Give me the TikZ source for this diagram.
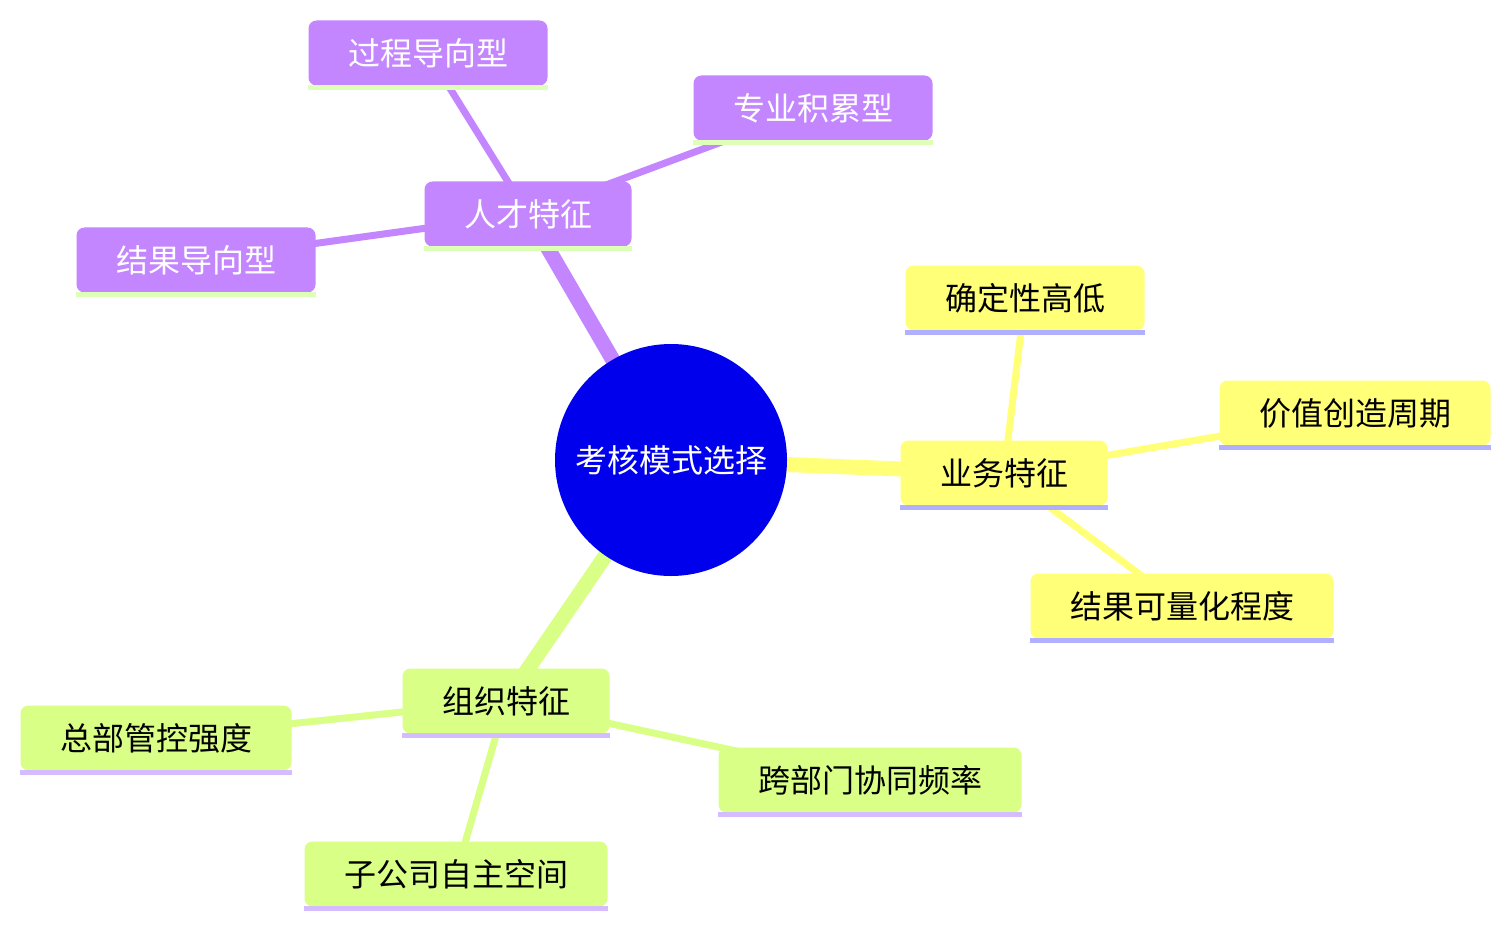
\documentclass[tikz,border=0pt]{standalone}
\usepackage{fontspec}
\newfontfamily\cjk{Noto Sans CJK SC}
\usetikzlibrary{positioning,backgrounds}

\definecolor{rootblue}{HTML}{0000EC}
\definecolor{talentpurple}{HTML}{C386FF}
\definecolor{bizyellow}{HTML}{FFFF78}
\definecolor{orggreen}{HTML}{D9FF86}
\definecolor{paleline}{HTML}{DDFFB8}
\definecolor{blueline}{HTML}{B0B0FF}
\definecolor{lavline}{HTML}{D4BCFF}

\tikzset{
  x=1pt, y=-1pt,
  every node/.style={font=\cjk\fontsize{32}{38}\selectfont},
  topic/.style={rounded corners=8pt, minimum height=65pt, inner xsep=39.5pt, inner ysep=0pt},
  talent/.style={topic, fill=talentpurple, text=white},
  biz/.style={topic, fill=bizyellow, text=black},
  org/.style={topic, fill=orggreen, text=black},
  mainedge/.style={line width=15pt},
  subedge/.style={line width=7pt},
  uline/.style={line width=5pt},
}

\begin{document}
\begin{tikzpicture}
  \useasboundingbox (0,0) rectangle (1510,928);

  % centre
  \node[circle, fill=rootblue, text=white, minimum size=232pt, inner sep=0pt] (root) at (671,460) {考核模式选择};

  % talent branch
  \node[talent] (talent) at (528,214) {人才特征};
  \node[talent] (process) at (428,53) {过程导向型};
  \node[talent] (expertise) at (813,108) {专业积累型};
  \node[talent] (result) at (196,260) {结果导向型};

  % business branch
  \node[biz] (business) at (1004,473) {业务特征};
  \node[biz] (certainty) at (1025,298) {确定性高低};
  \node[biz] (cycle) at (1355,413) {价值创造周期};
  \node[biz] (quantify) at (1182,606) {结果可量化程度};

  % organisation branch
  \node[org] (organisation) at (506,701) {组织特征};
  \node[org] (control) at (156,738) {总部管控强度};
  \node[org] (crossdept) at (870,780) {跨部门协同频率};
  \node[org] (autonomy) at (456,874) {子公司自主空间};

  % underlines
  \foreach \n in {talent,process,expertise,result}
    \draw[uline, paleline] ([yshift=-2pt]\n.south west) -- ([yshift=-2pt]\n.south east);
  \foreach \n in {business,certainty,cycle,quantify}
    \draw[uline, blueline] ([yshift=-2pt]\n.south west) -- ([yshift=-2pt]\n.south east);
  \foreach \n in {organisation,control,crossdept,autonomy}
    \draw[uline, lavline] ([yshift=-2pt]\n.south west) -- ([yshift=-2pt]\n.south east);

  \begin{scope}[on background layer]
    \draw[mainedge, talentpurple] (root.center) -- (talent.center);
    \draw[subedge, talentpurple] (talent.center) -- (process.center);
    \draw[subedge, talentpurple] (talent.center) -- (expertise.center);
    \draw[subedge, talentpurple] (talent.center) -- (result.center);

    \draw[mainedge, bizyellow] (root.center) -- (business.center);
    \draw[subedge, bizyellow] (business.center) -- (certainty.center);
    \draw[subedge, bizyellow] (business.center) -- (cycle.center);
    \draw[subedge, bizyellow] (business.center) -- (quantify.center);

    \draw[mainedge, orggreen] (root.center) -- (organisation.center);
    \draw[subedge, orggreen] (organisation.center) -- (control.center);
    \draw[subedge, orggreen] (organisation.center) -- (crossdept.center);
    \draw[subedge, orggreen] (organisation.center) -- (autonomy.center);
  \end{scope}
\end{tikzpicture}
\end{document}
